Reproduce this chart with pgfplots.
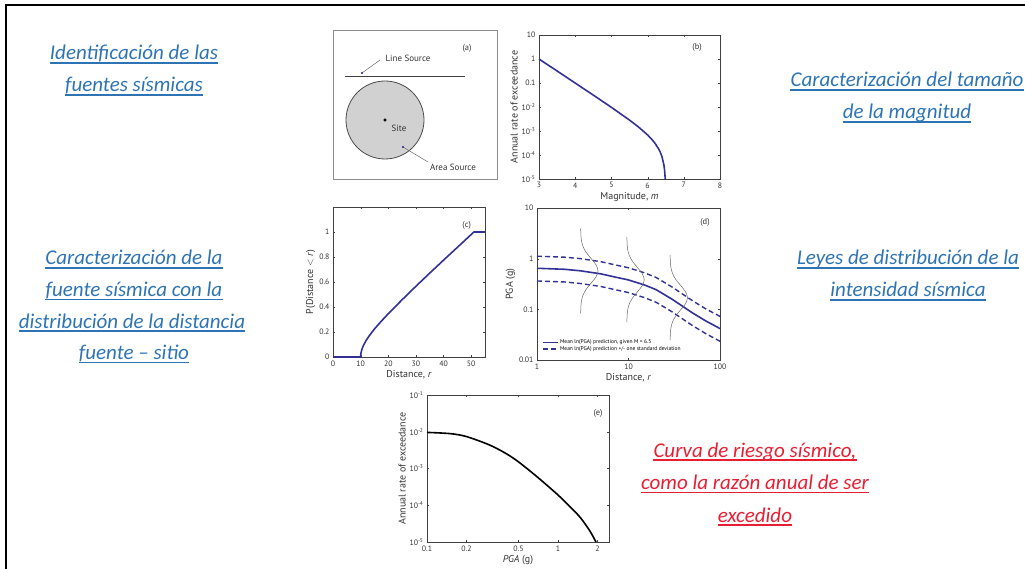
\documentclass[border=0pt]{standalone}
\usepackage{pgfplots}
\pgfplotsset{compat=1.18}
\usepackage{fontspec}
\setmainfont{Carlito}
\newfontfamily\axfont{PT Sans}
\definecolor{linkblue}{RGB}{46,116,181}
\definecolor{linkred}{RGB}{232,30,50}
\definecolor{navy}{RGB}{50,50,150}
\newcommand\ul[4]{%
  \node[anchor=base, inner sep=0pt, text=#3, font=\fontsize{21}{25}\selectfont\itshape] (t) at (#1pt,-#2pt) {#4};
  \draw[#3, line width=1.1pt] ([yshift=-3pt]t.base west) -- ([yshift=-3pt]t.base east);}
\pgfplotsset{panel/.style={scale only axis,
  axis line style={black!75}, tick style={black!75},
  ticklabel style={font=\axfont\fontsize{7.8}{8.5}\selectfont, text=black!80},
  label style={font=\axfont\fontsize{10}{11}\selectfont, text=black!80},
  /pgf/number format/assume math mode=true,
  xminorticks=false, yminorticks=false, tick align=inside, major tick length=2pt,
  clip=false}}
\begin{document}
\begin{tikzpicture}
\path[use as bounding box] (0,0) rectangle (1025pt,-569pt);
\draw[line width=2pt] (6pt,-569pt) -- (6pt,-5pt) -- (1025pt,-5pt);

% ---- texts
\ul{134}{60}{linkblue}{Identificación de las}
\ul{134}{92}{linkblue}{fuentes sísmicas}
\ul{907}{87}{linkblue}{Caracterización del tamaño}
\ul{907}{119}{linkblue}{de la magnitud}
\ul{134}{265}{linkblue}{Caracterización de la}
\ul{134}{296.5}{linkblue}{fuente sísmica con la}
\ul{132}{328}{linkblue}{distribución de la distancia}
\ul{134}{359.5}{linkblue}{fuente – sitio}
\ul{908}{265}{linkblue}{Leyes de distribución de la}
\ul{908}{297}{linkblue}{intensidad sísmica}
\ul{755}{457}{linkred}{Curva de riesgo sísmico,}
\ul{755}{489.5}{linkred}{como la razón anual de ser}
\ul{755}{522}{linkred}{excedido}

% ---- (a)
\begin{axis}[panel, at={(333pt,-179pt)}, anchor=south west, width=164pt, height=149pt,
  xmin=0, xmax=164, ymin=0, ymax=149, xtick=\empty, ytick=\empty, axis line style={black!45}]
\fill[black!18, draw=black!70, line width=0.8pt] (axis cs:52,59) circle[radius=39pt];
\addplot[black!75, line width=0.9pt] coordinates {(12,103) (132,103)};
\addplot[black!60, line width=0.5pt] coordinates {(29,106) (47,119)};
\addplot[black!60, line width=0.5pt] coordinates {(70,32) (95,17)};
\addplot[only marks, mark=*, mark size=1.3pt, black] coordinates {(52,59)};
\addplot[only marks, mark=*, mark size=0.9pt, navy] coordinates {(29,106) (70,32)};
\node[font=\axfont\fontsize{9}{10}\selectfont, text=black!80] at (axis cs:75,121) {Line Source};
\node[font=\axfont\fontsize{9}{10}\selectfont, text=black!80] at (axis cs:66,51) {Site};
\node[font=\axfont\fontsize{9}{10}\selectfont, text=black!80] at (axis cs:120,12) {Area Source};
\node[font=\axfont\fontsize{8.5}{9}\selectfont, text=black!80] at (rel axis cs:0.817,0.879) {(a)};
\end{axis}

% ---- (b)
\begin{axis}[panel, at={(539pt,-179pt)}, anchor=south west, width=181pt, height=144pt,
  xmin=3, xmax=8, ymode=log, ymin=1e-5, ymax=10,
  xtick={3,4,5,6,7,8},
  ytick={1e-5,1e-4,1e-3,1e-2,0.1,1,10},
  yticklabels={10\textsuperscript{-5},10\textsuperscript{-4},10\textsuperscript{-3},10\textsuperscript{-2},0.1,1,10},
  xlabel={Magnitude, \textit{m}}, ylabel={Annual rate of exceedance},
  xlabel style={yshift=3pt}, ylabel style={yshift=-3pt}]
\addplot[navy, line width=1.6pt] coordinates {
(3,1.0) (3.25,0.562) (3.5,0.3159) (3.75,0.1775) (4,0.0997) (4.5,0.03131) (5,0.00968)
(5.5,0.002846) (5.75,0.001462) (6,0.000684) (6.1,0.000478) (6.2,0.000315) (6.3,0.000185)
(6.35,0.000131) (6.4,0.0000822) (6.45,0.0000387) (6.47,0.0000227) (6.487,0.00001)};
\node[font=\axfont\fontsize{8.5}{9}\selectfont, text=black!80] at (rel axis cs:0.873,0.917) {(b)};
\end{axis}

% ---- (c)
\begin{axis}[panel, at={(333pt,-357pt)}, anchor=south west, width=152pt, height=150pt,
  xmin=0, xmax=55, ymin=0, ymax=1.2,
  xtick={0,10,20,30,40,50}, ytick={0,0.2,0.4,0.6,0.8,1},
  xlabel={Distance, \textit{r}}, ylabel={P(Distance $<$ \textit{r})},
  xlabel style={yshift=3pt}, ylabel style={yshift=-3pt}]
\addplot[navy, line width=1.6pt] coordinates {
(0,0) (10,0) (10.05,0.020) (10.1,0.0284) (10.2,0.040) (10.5,0.064) (11,0.0917) (12,0.133)
(13,0.166) (14,0.196) (15,0.224) (17.5,0.287) (20,0.346) (25,0.458) (30,0.566) (35,0.671)
(40,0.775) (45,0.877) (50,0.980) (50.99,1.0) (55,1.0)};
\node[font=\axfont\fontsize{8.5}{9}\selectfont, text=black!80] at (rel axis cs:0.88,0.88) {(c)};
\end{axis}

% ---- (d)
\begin{axis}[panel, at={(537pt,-360pt)}, anchor=south west, width=183pt, height=152pt,
  xmode=log, ymode=log, xmin=1, xmax=100, ymin=0.01, ymax=10,
  xtick={1,10,100}, xticklabels={1,10,100},
  ytick={0.01,0.1,1,10}, yticklabels={0.01,0.1,1,10},
  xlabel={Distance, \textit{r}}, ylabel={PGA (g)},
  xlabel style={yshift=3pt}, ylabel style={yshift=-3pt},
  legend style={at={(rel axis cs:0.02,0.04)}, anchor=south west, draw=none, fill=none,
    font=\axfont\fontsize{5.5}{6}\selectfont, row sep=-1pt, inner sep=1pt,
    nodes={inner sep=1pt}},
  legend cell align=left,
  legend image code/.code={\draw[#1] (0cm,0cm) -- (0.55cm,0cm);}]
\addplot[navy, line width=1.6pt] coordinates {
(1,0.646) (2,0.617) (3,0.575) (5,0.501) (7,0.437) (10,0.380) (15,0.302) (20,0.245)
(30,0.158) (50,0.0851) (70,0.0589) (100,0.0417)};
\addlegendentry{Mean ln(PGA) prediction, given M = 6.5}
\addplot[navy, line width=1.4pt, dash pattern=on 5pt off 3pt] coordinates {
(1,1.12) (2,1.07) (3,1.00) (5,0.871) (7,0.760) (10,0.661) (15,0.525) (20,0.426)
(30,0.275) (50,0.148) (70,0.102) (100,0.0725)};
\addlegendentry{Mean ln(PGA) prediction +/- one standard deviation}
\addplot[navy, line width=1.4pt, dash pattern=on 5pt off 3pt, forget plot] coordinates {
(1,0.363) (2,0.347) (3,0.323) (5,0.282) (7,0.246) (10,0.214) (15,0.170) (20,0.138)
(30,0.089) (50,0.0478) (70,0.0331) (100,0.0234)};
\addplot[black!60, line width=0.5pt, smooth, forget plot] coordinates {
(3.003,0.0831) (3.015,0.1095) (3.058,0.1443) (3.183,0.1903) (3.459,0.2510) (3.912,0.3306)
(4.413,0.4364) (4.647,0.575) (4.413,0.7579) (3.912,0.9994) (3.459,1.317) (3.183,1.7365)
(3.058,2.289) (3.015,3.018) (3.003,3.978)};
\addplot[black!60, line width=0.5pt, smooth, forget plot] coordinates {
(9.61,0.0556) (9.647,0.0733) (9.786,0.0966) (10.186,0.1274) (11.069,0.168) (12.518,0.2214)
(14.12,0.2922) (14.87,0.385) (14.12,0.5074) (12.518,0.6691) (11.069,0.882) (10.186,1.163)
(9.786,1.533) (9.647,2.020) (9.61,2.663)};
\addplot[black!60, line width=0.5pt, smooth, forget plot] coordinates {
(28.53,0.02457) (28.64,0.03239) (29.05,0.04267) (30.24,0.05627) (32.86,0.0742) (37.16,0.09775)
(41.92,0.129) (44.15,0.17) (41.92,0.2241) (37.16,0.2955) (32.86,0.3895) (30.24,0.5134)
(29.05,0.6768) (28.64,0.8922) (28.53,1.176)};
\node[font=\axfont\fontsize{8.5}{9}\selectfont, text=black!80] at (rel axis cs:0.918,0.908) {(d)};
\end{axis}

% ---- (e)
\begin{axis}[panel, at={(427pt,-542pt)}, anchor=south west, width=182pt, height=147pt,
  xmode=log, ymode=log, xmin=0.1, xmax=2.45, ymin=1e-5, ymax=0.1,
  xtick={0.1,0.2,0.5,1,2}, xticklabels={0.1,0.2,0.5,1,2},
  ytick={1e-5,1e-4,1e-3,1e-2,1e-1},
  yticklabels={10\textsuperscript{-5},10\textsuperscript{-4},10\textsuperscript{-3},10\textsuperscript{-2},10\textsuperscript{-1}},
  xlabel={\textit{PGA} (g)}, ylabel={Annual rate of exceedance},
  xlabel style={yshift=3pt}, ylabel style={yshift=-3pt}]
\addplot[black, line width=1.6pt, smooth] coordinates {
(0.1,0.0096) (0.15,0.0089) (0.2,0.0074) (0.3,0.00437) (0.4,0.00257) (0.5,0.00151)
(0.7,0.000575) (1.0,0.00019) (1.3,0.000076) (1.5,0.0000437) (1.75,0.00002) (1.95,0.00001)};
\node[font=\axfont\fontsize{8.5}{9}\selectfont, text=black!80] at (rel axis cs:0.94,0.878) {(e)};
\end{axis}
\end{tikzpicture}
\end{document}
